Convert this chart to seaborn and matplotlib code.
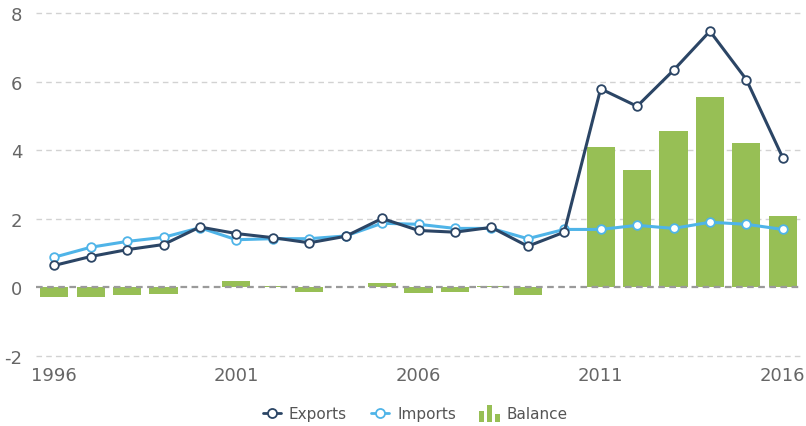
import numpy as np
import pandas as pd
import matplotlib
matplotlib.use("Agg")
import matplotlib.pyplot as plt
from matplotlib.lines import Line2D
from matplotlib.patches import Rectangle, Patch
from matplotlib.legend_handler import HandlerBase
import seaborn as sns

years = list(range(1996, 2017))
exports = [0.64, 0.90, 1.10, 1.25, 1.76, 1.57, 1.45, 1.30, 1.49, 2.01, 1.66, 1.61, 1.75, 1.20, 1.61,
           5.79, 5.28, 6.33, 7.47, 6.06, 3.78]
imports = [0.88, 1.17, 1.34, 1.46, 1.74, 1.39, 1.42, 1.42, 1.50, 1.87, 1.84, 1.72, 1.72, 1.42, 1.69,
           1.69, 1.81, 1.72, 1.90, 1.84, 1.69]
balance = [-0.27, -0.27, -0.23, -0.19, 0.0, 0.18, 0.03, -0.12, 0.0, 0.14, -0.16, -0.12, 0.03, -0.23, 0.0,
           4.09, 3.41, 4.56, 5.54, 4.20, 2.07]
xticks = [1996, 2001, 2006, 2011, 2016]
yticks = [-2, 0, 2, 4, 6, 8]

C_EXP = "#2b4565"
C_IMP = "#4fb4e8"
C_BAL = "#97bf55"
GRAY = "#666666"

df = pd.DataFrame({"year": years, "Exports": exports, "Imports": imports, "Balance": balance})

sns.set_theme(style="white")
plt.rcParams["font.family"] = ["DejaVu Sans"]

fig = plt.figure(figsize=(8.06, 4.27), dpi=100)
ax = fig.add_axes([36 / 806, 1 - 357 / 427, (801 - 36) / 806, (357 - 14) / 427])

# gridlines
for y in yticks:
    if y == 0:
        continue
    ax.axhline(y, color="#d2d2d2", lw=1, ls=(0, (4, 3)), zorder=0, clip_on=False)

sns.barplot(data=df, x="year", y="Balance", native_scale=True, width=0.77,
            color=C_BAL, saturation=1, edgecolor="none", ax=ax, zorder=2)

ax.axhline(0, color="#9a9a9a", lw=1.6, ls=(0, (3, 2)), zorder=3)

sns.lineplot(data=df, x="year", y="Exports", color=C_EXP, lw=2.2, marker="o",
             markersize=6.2, markerfacecolor="white", markeredgecolor=C_EXP,
             markeredgewidth=1.3, ax=ax, zorder=5)
sns.lineplot(data=df, x="year", y="Imports", color=C_IMP, lw=2.2, marker="o",
             markersize=6.2, markerfacecolor="white", markeredgecolor=C_IMP,
             markeredgewidth=1.3, ax=ax, zorder=4)

ax.set_xlim(1995.5, 2016.5)
ax.set_ylim(-2, 8)
ax.set_xticks(xticks)
ax.set_xticklabels([str(t) for t in xticks])
ax.set_yticks(yticks)
ax.set_yticklabels([str(t) for t in yticks])
ax.set_xlabel("")
ax.set_ylabel("")
for s in ax.spines.values():
    s.set_visible(False)
ax.tick_params(axis="both", length=0, labelsize=13, labelcolor=GRAY)
ax.tick_params(axis="x", pad=7)
ax.tick_params(axis="y", pad=10)


class BarIconHandler(HandlerBase):
    def create_artists(self, legend, orig_handle, xdescent, ydescent, width, height, fontsize, trans):
        arts = []
        bw = 4.0
        gap = 1.8
        hs = [1.0, 1.6, 0.75]
        x0 = width / 2 - (3 * bw + 2 * gap) / 2
        base = -ydescent - 2.5
        for i, h in enumerate(hs):
            r = Rectangle((x0 + i * (bw + gap), base), bw, height * h,
                          facecolor=C_BAL, edgecolor="none", transform=trans)
            arts.append(r)
        return arts


h_exp = Line2D([], [], color=C_EXP, lw=2, marker="o", markersize=6.5,
               markerfacecolor="white", markeredgecolor=C_EXP, markeredgewidth=1.3)
h_imp = Line2D([], [], color=C_IMP, lw=2, marker="o", markersize=6.5,
               markerfacecolor="white", markeredgecolor=C_IMP, markeredgewidth=1.3)
h_bal = Patch(color=C_BAL)

leg = fig.legend([h_exp, h_imp, h_bal], ["Exports", "Imports", "Balance"],
                 loc="center", bbox_to_anchor=(415 / 806, 1 - 415 / 427), ncol=3,
                 frameon=False, fontsize=11, labelcolor="#555555",
                 handlelength=1.2, handletextpad=0.5, columnspacing=1.6,
                 handler_map={Patch: BarIconHandler()})

fig.savefig("out.png", dpi=100)
